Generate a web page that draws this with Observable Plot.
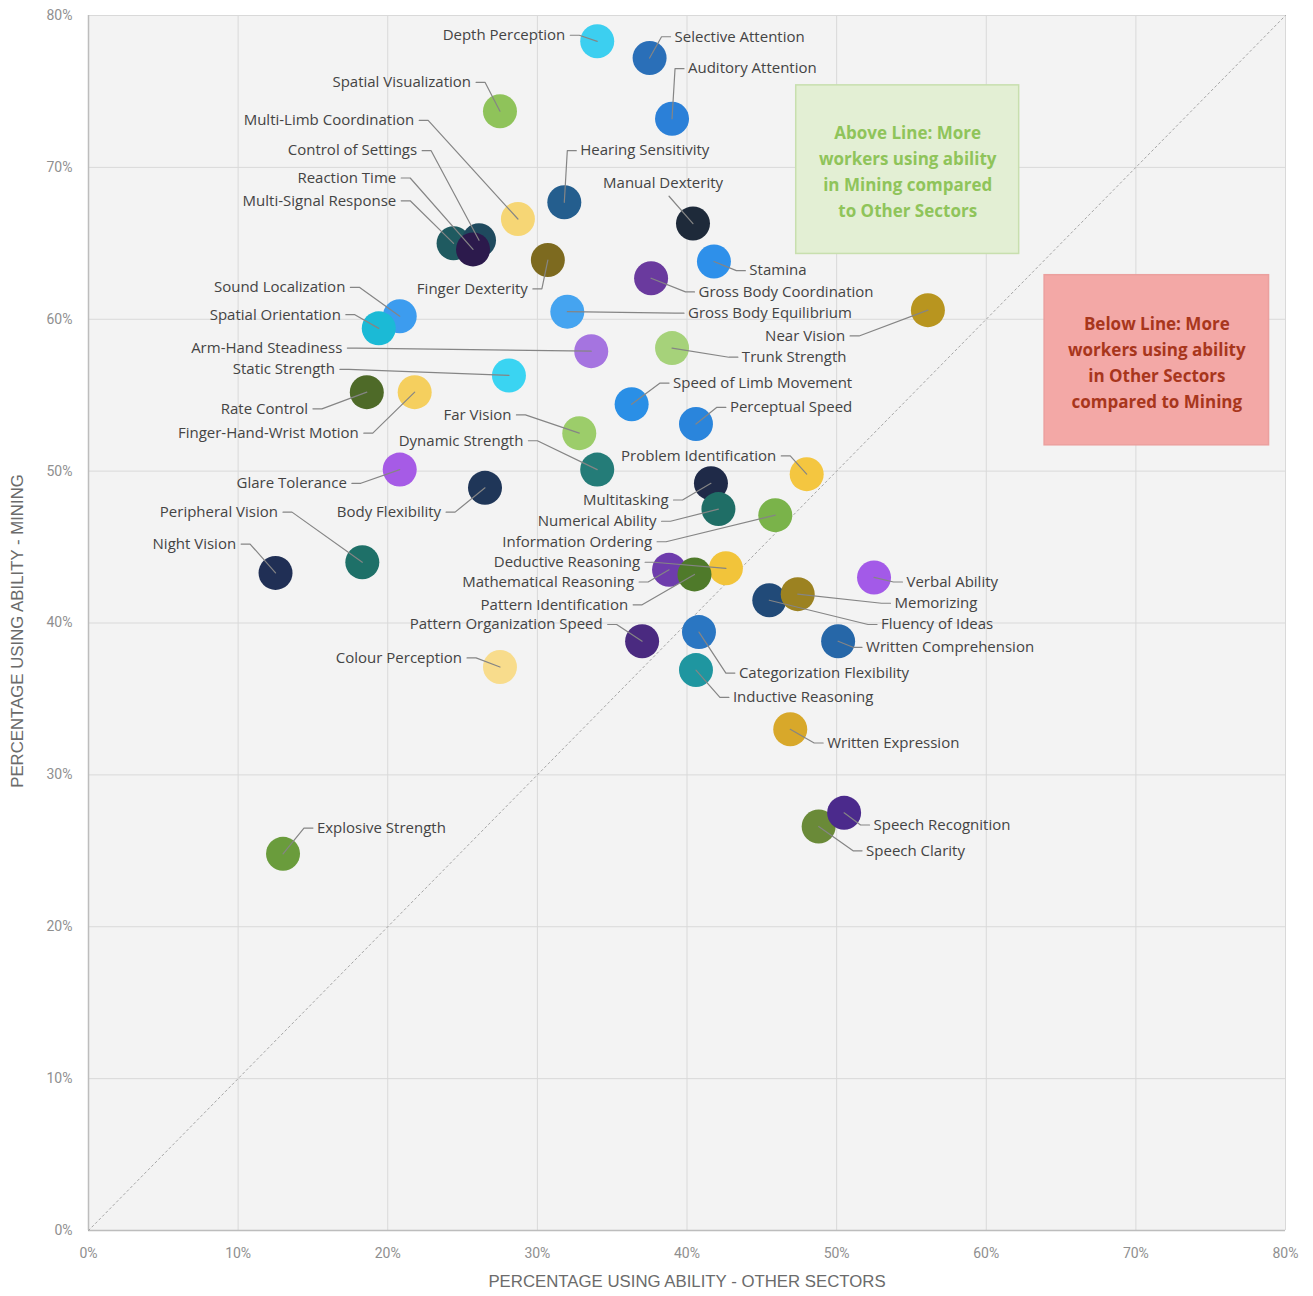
<!DOCTYPE html>
<html>
<head>
<meta charset="utf-8">
<script src="https://cdn.jsdelivr.net/npm/d3@7"></script>
<script src="https://cdn.jsdelivr.net/npm/@observablehq/plot@0.6"></script>
<style>
  body { margin: 0; background: #ffffff; }
  #chart svg { display: block; }
</style>
</head>
<body>
<div id="chart"></div>
<script>
// Share of workers using each ability: other sectors (x) vs mining (y), in percent
const abilities = [
  "Depth Perception", "Selective Attention", "Auditory Attention", "Spatial Visualization",
  "Multi-Limb Coordination", "Hearing Sensitivity", "Manual Dexterity", "Multi-Signal Response",
  "Control of Settings", "Reaction Time", "Finger Dexterity", "Stamina",
  "Gross Body Coordination", "Near Vision", "Sound Localization", "Spatial Orientation",
  "Gross Body Equilibrium", "Arm-Hand Steadiness", "Trunk Strength", "Static Strength",
  "Rate Control", "Finger-Hand-Wrist Motion", "Speed of Limb Movement", "Perceptual Speed",
  "Far Vision", "Dynamic Strength", "Problem Identification", "Glare Tolerance",
  "Body Flexibility", "Multitasking", "Numerical Ability", "Information Ordering",
  "Peripheral Vision", "Night Vision", "Deductive Reasoning", "Mathematical Reasoning",
  "Pattern Identification", "Pattern Organization Speed", "Colour Perception", "Verbal Ability",
  "Fluency of Ideas", "Memorizing", "Written Comprehension", "Categorization Flexibility",
  "Inductive Reasoning", "Written Expression", "Speech Clarity", "Speech Recognition",
  "Explosive Strength"
];
const otherSectors = [
  34.0, 37.5, 39.0, 27.5,
  28.7, 31.8, 40.4, 24.4,
  26.1, 25.7, 30.7, 41.8,
  37.6, 56.1, 20.8, 19.4,
  32.0, 33.6, 39.0, 28.1,
  18.6, 21.8, 36.3, 40.6,
  32.8, 34.0, 48.0, 20.8,
  26.5, 41.6, 42.1, 45.9,
  18.3, 12.5, 42.6, 38.8,
  40.5, 37.0, 27.5, 52.5,
  45.5, 47.4, 50.1, 40.8,
  40.6, 46.9, 48.8, 50.5,
  13.0
];
const mining = [
  78.3, 77.2, 73.2, 73.7,
  66.6, 67.7, 66.3, 65.0,
  65.2, 64.6, 63.9, 63.8,
  62.7, 60.6, 60.2, 59.4,
  60.5, 57.9, 58.1, 56.3,
  55.2, 55.2, 54.4, 53.1,
  52.5, 50.1, 49.8, 50.1,
  48.9, 49.2, 47.5, 47.1,
  44.0, 43.3, 43.6, 43.5,
  43.2, 38.8, 37.1, 43.0,
  41.5, 41.9, 38.8, 39.4,
  36.9, 33.0, 26.6, 27.5,
  24.8
];
const axisTicks = [0, 10, 20, 30, 40, 50, 60, 70, 80];
const xTitle = "PERCENTAGE USING ABILITY - OTHER SECTORS";
const yTitle = "PERCENTAGE USING ABILITY - MINING";
const aboveNote = "Above Line: More\nworkers using ability\nin Mining compared\nto Other Sectors";
const belowNote = "Below Line: More\nworkers using ability\nin Other Sectors\ncompared to Mining";

// Dot colours, one per ability (same order)
const dotColors = [
  "#3ccff0", "#2a6fb8", "#2b80d8", "#8fc35a",
  "#f6d675", "#245e8e", "#1e2a3a", "#1f5a60",
  "#1f4a5e", "#2c1a4c", "#7d6a1f", "#2e90ea",
  "#6a3a9e", "#b8951f", "#3c9cef", "#1bbad6",
  "#45a4f0", "#a574e0", "#a6d27a", "#3ad4f2",
  "#4e6a28", "#f5cf5e", "#2a8fe6", "#2a85dc",
  "#9ccd6a", "#247c78", "#f4c640", "#a65be6",
  "#1f3658", "#1f2a48", "#1f6e66", "#7ab34a",
  "#1e7068", "#202f55", "#f2c43a", "#6e3cac",
  "#4f7a2a", "#4a2a80", "#f8dc8c", "#a35ae8",
  "#214a78", "#9c8221", "#2667a8", "#2a76c2",
  "#1f96a0", "#d8a82a", "#6a8a38", "#4b2a8c",
  "#6a9c3c"
];

// Where each label's leader line starts (data units) and which side the text sits on
const labelX = [
  32.2, 38.9, 39.8, 25.9,
  22.1, 32.6, 38.8, 20.9,
  22.3, 20.9, 29.7, 43.9,
  40.5, 50.9, 17.5, 17.2,
  39.8, 17.3, 43.4, 16.8,
  15.0, 18.4, 38.8, 42.6,
  28.6, 29.4, 46.3, 17.6,
  23.9, 39.1, 38.3, 38.0,
  13.0, 10.2, 37.2, 36.8,
  36.4, 34.7, 25.3, 54.4,
  52.7, 53.6, 51.7, 43.2,
  42.8, 49.1, 51.7, 52.2,
  15.0
];
const labelY = [
  78.7, 78.6, 76.5, 75.6,
  73.1, 71.1, 68.1, 67.8,
  71.1, 69.3, 62.0, 63.2,
  61.8, 58.9, 62.1, 60.3,
  60.4, 58.1, 57.5, 56.7,
  54.1, 52.5, 55.8, 54.2,
  53.7, 52.0, 51.0, 49.2,
  47.3, 48.1, 46.7, 45.35,
  47.3, 45.2, 44.0, 42.7,
  41.2, 39.9, 37.7, 42.7,
  39.9, 41.3, 38.4, 36.7,
  35.1, 32.1, 25.0, 26.7,
  26.5
];
const labelSide = [
  "L", "R", "R", "L",
  "L", "R", "T", "L",
  "L", "L", "L", "R",
  "R", "L", "L", "L",
  "R", "L", "R", "L",
  "L", "L", "R", "R",
  "L", "L", "L", "L",
  "L", "L", "L", "L",
  "L", "L", "L", "L",
  "L", "L", "L", "R",
  "R", "R", "R", "R",
  "R", "R", "R", "R",
  "R"
];

const STUB = 0.6; // short horizontal hook at the start of each leader line

const points = abilities.map((name, i) => ({name, other: otherSectors[i], mining: mining[i]}));
const labels = abilities.map((name, i) => ({name, lx: labelX[i], ly: labelY[i], side: labelSide[i]}));
const leaders = labels.flatMap((l, i) => {
  const p = points[i];
  const path = [[l.lx, l.ly]];
  if (l.side === "L") path.push([l.lx + STUB, l.ly]);
  if (l.side === "R") path.push([l.lx - STUB, l.ly]);
  path.push([p.other, p.mining]);
  return path.map(([x, y]) => ({name: l.name, x, y}));
});

const notes = [
  {text: aboveNote, x1: 47.3, x2: 62.2, y1: 64.3, y2: 75.4, fill: "#e3efd4", stroke: "#c8dfae", ink: "#8fc45a"},
  {text: belowNote, x1: 63.9, x2: 78.9, y1: 51.7, y2: 62.9, fill: "#f3a8a6", stroke: "#eba09e", ink: "#a8361c"}
];

const labelFont = {fontFamily: "'Open Sans', sans-serif", fontSize: 15, fill: "#444444"};

const chart = Plot.plot({
  width: 1313,
  height: 1296,
  marginLeft: 88,
  marginRight: 28,
  marginTop: 15,
  marginBottom: 66,
  x: {domain: [0, 80]},
  y: {domain: [0, 80]},
  color: {domain: abilities, range: dotColors},
  style: {fontFamily: "'Open Sans', sans-serif", background: "#ffffff"},
  marks: [
    Plot.frame({fill: "#f3f3f3", stroke: null}),
    Plot.gridX(axisTicks, {stroke: "#d9d9d9", strokeOpacity: 1}),
    Plot.gridY(axisTicks, {stroke: "#d9d9d9", strokeOpacity: 1}),
    Plot.ruleX([0], {stroke: "#bdbdbd", strokeWidth: 1.5}),
    Plot.ruleY([0], {stroke: "#bdbdbd", strokeWidth: 1.5}),
    Plot.line([[0, 0], [80, 80]], {stroke: "#a5a5a5", strokeWidth: 1, strokeDasharray: "2,3"}),
    Plot.rect(notes, {x1: "x1", x2: "x2", y1: "y1", y2: "y2", fill: "fill", stroke: "stroke", strokeWidth: 1.5}),
    Plot.text(notes, {
      x: d => (d.x1 + d.x2) / 2, y: d => (d.y1 + d.y2) / 2, text: "text", fill: "ink",
      fontSize: 17, fontWeight: "bold", lineHeight: 1.53, fontFamily: "'Open Sans', sans-serif"
    }),
    Plot.dot(points, {x: "other", y: "mining", r: 17, fill: "name", stroke: null}),
    Plot.line(leaders, {x: "x", y: "y", z: "name", stroke: "#858585", strokeWidth: 1.2}),
    Plot.text(labels.filter(d => d.side === "L"), {x: "lx", y: "ly", text: "name", textAnchor: "end", dx: -5, ...labelFont}),
    Plot.text(labels.filter(d => d.side === "R"), {x: "lx", y: "ly", text: "name", textAnchor: "start", dx: 4, ...labelFont}),
    Plot.text(labels.filter(d => d.side === "T"), {x: "lx", y: "ly", text: "name", textAnchor: "middle", dx: -6, dy: -13, ...labelFont}),
    Plot.axisX(axisTicks, {tickSize: 0, tickPadding: 18, tickFormat: d => d + "%", fontSize: 14, fill: "#8f8f8f", label: null, fontFamily: "Roboto, sans-serif"}),
    Plot.axisY(axisTicks, {tickSize: 0, tickPadding: 16, tickFormat: d => d + "%", fontSize: 14, fill: "#8f8f8f", label: null, fontFamily: "Roboto, sans-serif"}),
    Plot.text([xTitle], {frameAnchor: "bottom", dy: 56, text: d => d, fontSize: 16.8, fill: "#6b6b6b", fontFamily: "'Liberation Sans', Arial, sans-serif"}),
    Plot.text([yTitle], {frameAnchor: "left", textAnchor: "middle", rotate: -90, dx: -71, dy: 8, text: d => d, fontSize: 16.8, fill: "#6b6b6b", fontFamily: "'Liberation Sans', Arial, sans-serif"})
  ]
});

document.getElementById("chart").appendChild(chart);
</script>
</body>
</html>
